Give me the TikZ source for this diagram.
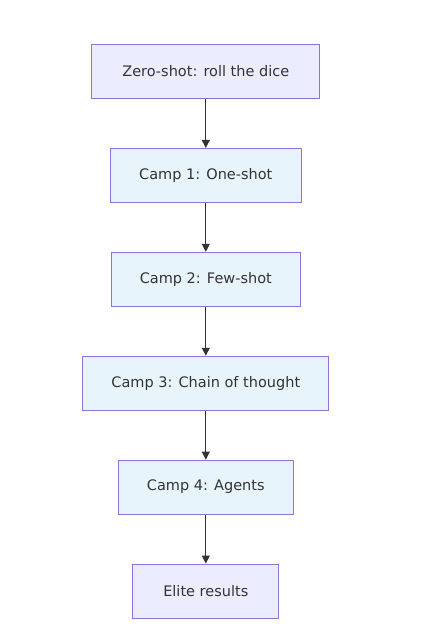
\documentclass[tikz,border=0pt]{standalone}
\usepackage{fontspec}
\setmainfont{DejaVu Sans}
\usetikzlibrary{positioning,arrows.meta}
\definecolor{lav}{HTML}{ECECFF}
\definecolor{sky}{HTML}{E8F4FC}
\definecolor{edge}{HTML}{9370DB}
\definecolor{ink}{HTML}{333333}
\begin{document}
\begin{tikzpicture}[node distance=49pt,
        every node/.style={font=\fontsize{14.5}{17}\selectfont,text=ink}]
            \tikzstyle{lv}=[rectangle,draw=edge,fill=lav,line width=0.9pt,minimum height=54pt,inner xsep=30.5pt]
            \tikzstyle{bl}=[lv,fill=sky,inner xsep=28.7pt]
            \tikzstyle{ar}=[-{Triangle[width=8pt,length=8pt]},ink,line width=1pt]

            \useasboundingbox (0,0) rectangle (438pt,-639pt);

            \node [lv] (zero) at (205.8pt,-71.5pt) {Zero-shot: roll the dice};
            \node [bl,below=of zero] (one) {Camp 1: One-shot};
            \node [bl,below=of one] (few) {Camp 2: Few-shot};
            \node [bl,below=of few] (chain) {Camp 3: Chain of thought};
            \node [bl,below=of chain] (agents) {Camp 4: Agents};
            \node [lv,below=of agents] (elite) {Elite results};

            \draw[ar] (zero) -- (one);
            \draw[ar] (one) -- (few);
            \draw[ar] (few) -- (chain);
            \draw[ar] (chain) -- (agents);
            \draw[ar] (agents) -- (elite);
        \end{tikzpicture}
\end{document}
